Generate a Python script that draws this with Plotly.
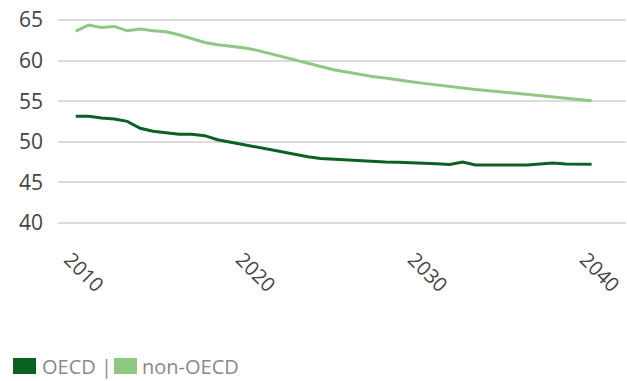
import plotly.graph_objects as go

# x positions (years) of the 41 data points
years = [2010.0, 2010.75, 2011.5, 2012.25, 2013.0, 2013.75, 2014.5, 2015.25, 2016.0, 2016.75,
         2017.5, 2018.25, 2019.0, 2019.75, 2020.5, 2021.25, 2022.0, 2022.75, 2023.5, 2024.25,
         2025.0, 2025.75, 2026.5, 2027.25, 2028.0, 2028.75, 2029.5, 2030.25, 2031.0, 2031.75,
         2032.5, 2033.25, 2034.0, 2034.75, 2035.5, 2036.25, 2037.0, 2037.75, 2038.5, 2039.25,
         2040.0]

oecd = [53.14, 53.14, 52.93, 52.80, 52.52, 51.66, 51.29, 51.08, 50.92, 50.92,
        50.75, 50.26, 49.95, 49.69, 49.32, 49.03, 48.78, 48.46, 48.15, 47.93,
        47.85, 47.72, 47.64, 47.52, 47.51, 47.48, 47.42, 47.43, 47.30, 47.20,
        47.51, 47.14, 47.14, 47.14, 47.14, 47.14, 47.27, 47.39, 47.27, 47.23,
        47.23]

non_oecd = [63.65, 64.38, 64.10, 64.22, 63.68, 63.89, 63.70, 63.56, 63.20, 62.74,
            62.25, 61.97, 61.78, 61.58, 61.30, 60.90, 60.44, 60.04, 59.63, 59.22,
            58.88, 58.60, 58.30, 58.05, 57.85, 57.67, 57.40, 57.20, 57.00, 56.83,
            56.65, 56.45, 56.30, 56.15, 55.97, 55.85, 55.68, 55.55, 55.40, 55.27,
            55.05]

x_ticks = [2010, 2020, 2030, 2040]
x_tick_labels = ["2010", "2020", "2030", "2040"]
y_ticks = [40, 45, 50, 55, 60, 65]

series_names = ["OECD", "non-OECD"]
dark = "#0b6122"
light = "#8fc882"

FONT = "Open Sans"
W, H = 627, 381
ML, MR, MT, MB = 58, 1, 12, 150
PW = W - ML - MR
PH = H - MT - MB


def px_x(p):
    return (p - ML) / PW


def px_y(p):
    return (H - MB - p) / PH


fig = go.Figure()
fig.add_trace(go.Scatter(x=years, y=non_oecd, mode="lines", name=series_names[1],
                         line=dict(color=light, width=3), showlegend=False))
fig.add_trace(go.Scatter(x=years, y=oecd, mode="lines", name=series_names[0],
                         line=dict(color=dark, width=3), showlegend=False))

# custom legend: swatch + label, separated by "|"
legend_font = dict(family=FONT, size=20, color="#8a8a8a")
shapes = [
    dict(type="rect", xref="paper", yref="paper", x0=px_x(13), x1=px_x(36),
         y0=px_y(374), y1=px_y(358), fillcolor=dark, line=dict(width=0)),
    dict(type="rect", xref="paper", yref="paper", x0=px_x(114), x1=px_x(137),
         y0=px_y(374), y1=px_y(358), fillcolor=light, line=dict(width=0)),
]
annotations = [
    dict(text=f"{series_names[0]} |", xref="paper", yref="paper", x=px_x(40), y=px_y(366),
         xanchor="left", yanchor="middle", showarrow=False, font=legend_font),
    dict(text=series_names[1], xref="paper", yref="paper", x=px_x(140), y=px_y(366),
         xanchor="left", yanchor="middle", showarrow=False, font=legend_font),
]

fig.update_layout(
    width=W, height=H,
    margin=dict(l=ML, r=MR, t=MT, b=MB),
    paper_bgcolor="white", plot_bgcolor="white",
    font=dict(family=FONT, size=20, color="#444444"),
    showlegend=False,
    xaxis=dict(range=[2008.97, 2042.0], tickvals=x_ticks, ticktext=x_tick_labels,
               tickangle=45, showgrid=False, zeroline=False, showline=False,
               ticks="", ticklabelstandoff=12, ticklabelshift=-6,
               ticklabeloverflow="allow",
               tickfont=dict(size=20, color="#444444")),
    yaxis=dict(range=[39, 66], tickvals=y_ticks, showgrid=True, gridcolor="#dcdcdc",
               gridwidth=2, zeroline=False, showline=False, ticks="",
               ticklabelstandoff=14, tickfont=dict(size=21, color="#444444")),
    shapes=shapes,
    annotations=annotations,
)

fig.write_html("out.html")
